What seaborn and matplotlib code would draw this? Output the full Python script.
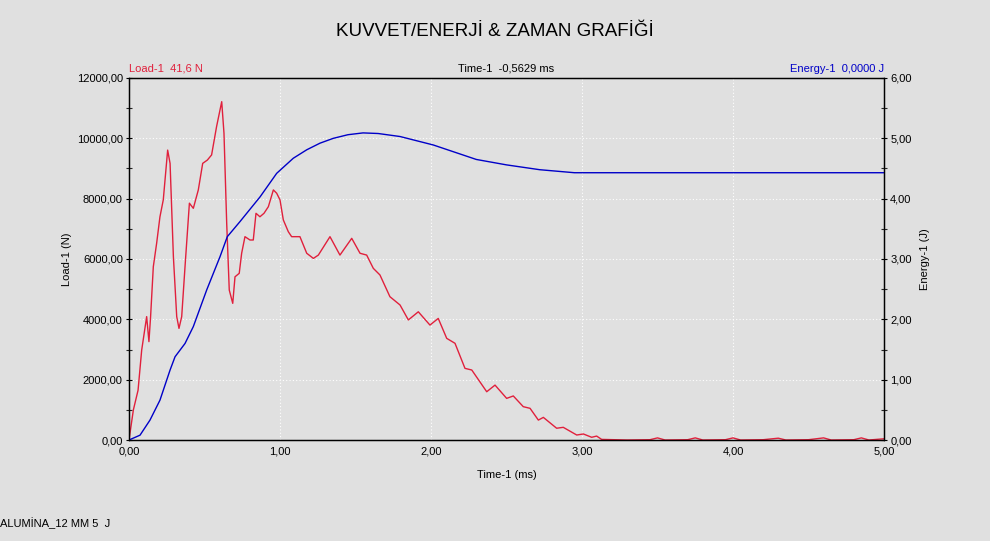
import matplotlib
matplotlib.use("Agg")
import matplotlib.pyplot as plt
import seaborn as sns
import pandas as pd
from matplotlib.ticker import MultipleLocator, FuncFormatter

# ---- data ----
load_time = [0.0, 0.029, 0.06, 0.084, 0.117, 0.132, 0.143, 0.161, 0.183, 0.205, 0.227, 0.256, 0.272,
             0.294, 0.316, 0.331, 0.349, 0.371, 0.40, 0.426, 0.459, 0.488, 0.519, 0.547, 0.58, 0.614,
             0.629, 0.647, 0.664, 0.687, 0.702, 0.73, 0.746, 0.768, 0.801, 0.823, 0.841, 0.867, 0.894,
             0.923, 0.956, 0.978, 1.0, 1.022, 1.055, 1.077, 1.132, 1.177, 1.221, 1.254, 1.331, 1.397,
             1.475, 1.53, 1.574, 1.618, 1.662, 1.728, 1.795, 1.85, 1.916, 1.993, 2.048, 2.104, 2.159,
             2.225, 2.27, 2.369, 2.424, 2.501, 2.545, 2.611, 2.656, 2.711, 2.744, 2.832, 2.876, 2.965,
             3.009, 3.064, 3.097, 3.13, 3.3, 3.45, 3.5, 3.55, 3.7, 3.75, 3.8, 3.95, 4.0, 4.05, 4.2,
             4.3, 4.35, 4.5, 4.6, 4.65, 4.8, 4.85, 4.9, 5.0]
load_n = [0, 1000, 1650, 2980, 4090, 3260, 4090, 5745, 6520, 7400, 7960, 9610, 9170,
          6075, 4090, 3700, 4090, 5745, 7850, 7680, 8290, 9170, 9280, 9450, 10390, 11215,
          10170, 7185, 4970, 4530, 5410, 5525, 6190, 6740, 6630, 6630, 7515, 7400, 7515,
          7735, 8290, 8180, 7960, 7295, 6905, 6740, 6740, 6190, 6020, 6130, 6740, 6130,
          6685, 6190, 6130, 5690, 5470, 4750, 4475, 3980, 4250, 3810, 4030, 3370, 3205,
          2375, 2320, 1600, 1820, 1380, 1460, 1105, 1050, 660, 750, 390, 420, 165,
          200, 90, 130, 20, 0, 10, 70, 0, 10, 70, 0, 10, 70, 0, 10,
          60, 0, 10, 70, 0, 10, 70, 0, 40]

energy_time = [0.0, 0.073, 0.139, 0.205, 0.272, 0.305, 0.371, 0.426, 0.515, 0.603, 0.651, 0.735,
               0.868, 0.978, 1.088, 1.177, 1.265, 1.353, 1.45, 1.55, 1.65, 1.795, 2.015, 2.30,
               2.5, 2.72, 2.95, 3.5, 4.0, 4.5, 5.0]
energy_j = [0.0, 0.08, 0.33, 0.66, 1.16, 1.38, 1.60, 1.88, 2.49, 3.04, 3.37, 3.62,
            4.03, 4.42, 4.67, 4.81, 4.92, 5.00, 5.06, 5.09, 5.08, 5.03, 4.89, 4.65,
            4.56, 4.48, 4.43, 4.43, 4.43, 4.43, 4.43]

x_ticks = [0, 1, 2, 3, 4, 5]
title = "KUVVET/ENERJİ & ZAMAN GRAFİĞİ"
footer = "ALUMİNA_12 MM 5  J"

# ---- styling ----
sns.set_theme(style="white")
bg = "#e0e0e0"
plt.rcParams['font.family'] = ['Liberation Sans', 'DejaVu Sans']
plt.rcParams['text.color'] = 'black'
plt.rcParams['axes.labelcolor'] = 'black'

fig = plt.figure(figsize=(9.9, 5.41), dpi=100, facecolor=bg)
ax = fig.add_axes([129/990, 1-440/541, (884-129)/990, (440-78)/541])
ax.set_facecolor(bg)
ax2 = ax.twinx()

df_load = pd.DataFrame({"t": load_time, "load": load_n})
df_en = pd.DataFrame({"t": energy_time, "e": energy_j})
sns.lineplot(data=df_load, x="t", y="load", ax=ax, color="#e0203c", lw=1.0)
sns.lineplot(data=df_en, x="t", y="e", ax=ax2, color="#0000c8", lw=1.0)

comma = lambda v, p: f"{v:.2f}".replace(".", ",")
ax.set_xlim(0, 5)
ax.set_ylim(0, 12000)
ax2.set_ylim(0, 6)
ax.set_xticks(x_ticks)
ax.xaxis.set_minor_locator(MultipleLocator(0.5))
ax.yaxis.set_major_locator(MultipleLocator(2000))
ax.yaxis.set_minor_locator(MultipleLocator(1000))
ax2.yaxis.set_major_locator(MultipleLocator(1))
ax2.yaxis.set_minor_locator(MultipleLocator(0.5))
for a in (ax.xaxis, ax.yaxis, ax2.yaxis):
    a.set_major_formatter(FuncFormatter(comma))

ax.tick_params(axis="both", which="major", direction="inout", length=5, width=0.8,
               labelsize=8, colors="black", pad=2)
ax.tick_params(axis="both", which="minor", direction="inout", length=5, width=0.8)
ax2.tick_params(axis="y", which="major", direction="inout", length=5, width=0.8,
                labelsize=8, pad=2, colors="black")
ax2.tick_params(axis="y", which="minor", direction="inout", length=5, width=0.8)

ax.grid(True, which="major", color="white", linestyle=(0, (1, 2)), lw=0.8)
for a in (ax, ax2):
    for s in a.spines.values():
        s.set_color("black")
        s.set_linewidth(0.9)

ax.set_xlabel("Time-1 (ms)", fontsize=8, labelpad=10)
ax.set_ylabel("Load-1 (N)", fontsize=8, labelpad=3)
ax2.set_ylabel("Energy-1 (J)", fontsize=8, labelpad=6, rotation=90)

fig.text(0.5, 1-32/541, title, ha="center", va="center", fontsize=13.5, color="black")
ax.text(0.0, 1.012, "Load-1  41,6 N", transform=ax.transAxes, color="#e0203c",
        fontsize=8, ha="left", va="bottom")
ax.text(0.5, 1.012, "Time-1  -0,5629 ms", transform=ax.transAxes, color="black",
        fontsize=8, ha="center", va="bottom")
ax.text(1.0, 1.012, "Energy-1  0,0000 J", transform=ax.transAxes, color="#0000c8",
        fontsize=8, ha="right", va="bottom")
fig.text(0.0, 1-523/541, footer, ha="left", va="center", fontsize=8)

fig.savefig("out.png", dpi=100, facecolor=bg)
